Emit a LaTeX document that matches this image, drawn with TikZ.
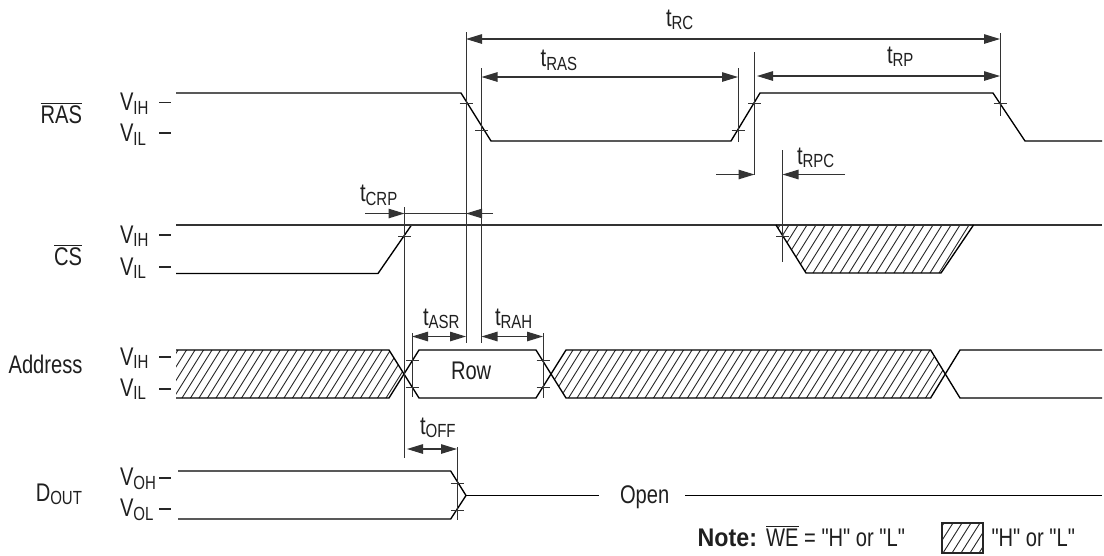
\documentclass[tikz,border=0pt]{standalone}
\usepackage{fontspec}
\newfontfamily\labelfont[FakeStretch=0.79]{Liberation Sans}
\newfontfamily\notefont[FakeStretch=0.91]{Liberation Sans}
\usetikzlibrary{arrows.meta}
\newcommand{\lsub}[1]{\raisebox{-3.6pt}{\fontsize{19}{19}\selectfont #1}}
\newcommand{\ovl}[1]{\vbox{\hrule height 1pt \kern 1.6pt \hbox{#1}}}
\tikzset{
  txt/.style={inner sep=0pt,outer sep=0pt,anchor=base west,font=\labelfont\fontsize{25.5}{26}\selectfont,text=black!88},
  txte/.style={txt,anchor=base east},
  sig/.style={line width=1.35pt,black,line join=miter},
  ext/.style={line width=1pt,black!80},
  tk/.style={line width=0.9pt,black!80},
  dim/.style={line width=1.1pt,black!80},
  dimr/.style={dim,-{Triangle[length=16pt,width=9.5pt]}},
  diml/.style={dim,{Triangle[length=16pt,width=9.5pt]}-},
  dimb/.style={dim,{Triangle[length=16pt,width=9.5pt]}-{Triangle[length=16pt,width=9.5pt]}},
  hat/.style={line width=0.9pt,black!85},
  lev/.style={line width=1.1pt,black!85},
}
\begin{document}
\begin{tikzpicture}[x=1pt,y=-1pt]
\useasboundingbox (0,0) rectangle (1104,555);
% ---- named reference points
\coordinate (rcT) at (466,32);   \coordinate (rcB) at (466,343);
\coordinate (rasT) at (481.5,68);\coordinate (rasB) at (481.5,343);
\coordinate (crpT) at (404.5,207);\coordinate (crpB) at (404.5,458);
\coordinate (raeT) at (738,68);  \coordinate (raeB) at (738,142);
\coordinate (rpcT) at (754.5,52);\coordinate (rpcB) at (754.5,175);
\coordinate (rceT) at (1000,33); \coordinate (rceB) at (1000,116);
\coordinate (pcT) at (782.5,150);\coordinate (pcB) at (782.5,262);
\coordinate (asT) at (412,333);  \coordinate (asB) at (412,397);
\coordinate (ahT) at (543,333);  \coordinate (ahB) at (543,398);
\coordinate (ofT) at (457,447);  \coordinate (ofB) at (457,520);
% ---- hatching
\begin{scope}
  \clip (176,350) -- (389,350) -- (404,374) -- (389,398) -- (176,398) -- cycle;
  \foreach \hx in {148,156.5,...,400}{\draw[hat] (\hx,398) -- ({\hx+30},350);}
\end{scope}
\begin{scope}
  \clip (551,374) -- (567,350) -- (930.6,350) -- (945.5,374) -- (930.6,398) -- (567,398) -- cycle;
  \foreach \hx in {526,534.5,...,945}{\draw[hat] (\hx,398) -- ({\hx+30},350);}
\end{scope}
\begin{scope}
  \clip (776,225) -- (973.5,225) -- (941,273) -- (806,273) -- cycle;
  \foreach \hx in {750,759,...,960}{\draw[hat] (\hx,273) -- ({\hx+30},225);}
\end{scope}
\begin{scope}
  \clip (942,523) rectangle (983,553);
  \foreach \hx in {925,934,...,985}{\draw[hat] (\hx,553) -- ({\hx+19},523);}
\end{scope}
\draw[line width=1.1pt,black!85] (942,523) rectangle (983,553);
% ---- signals
\draw[sig] (176,93) -- (461,93) -- (491,141) -- (731,141) -- (760,93) -- (993,93) -- (1025,141) -- (1102,141);
\draw[sig] (176,273.5) -- (378,273.5) -- (411.5,225);
\draw[sig,black!80] (176,225) -- (1102,225);
\draw[sig] (776,225) -- (806,273) -- (941,273) -- (973.5,225);
\draw[sig] (176,350) -- (389,350) -- (419,398) -- (536,398) -- (566,350) -- (930.6,350) -- (960,398) -- (1102,398);
\draw[sig] (176,398) -- (389,398) -- (419,350) -- (536,350) -- (566,398) -- (930.6,398) -- (960,350) -- (1102,350);
\draw[sig] (178,471) -- (450.7,471) -- (466,495.5) -- (450.7,519) -- (178,519);
\draw[sig] (466,495.5) -- (599,495.5);
\draw[sig] (685,495.5) -- (1102,495.5);
% ---- extension lines
\foreach \a/\b in {rcT/rcB,rasT/rasB,crpT/crpB,raeT/raeB,rpcT/rpcB,rceT/rceB,pcT/pcB,asT/asB,ahT/ahB,ofT/ofB}{\draw[ext] (\a) -- (\b);}
% ---- ticks
\foreach \x/\y in {466/103,481.5/130,738/130,754.5/103,1000/103,404.5/236,782.5/236,412/360,412/387,543/360,543/387,457/483,457/510}{
  \draw[tk] ({\x-6.5},\y) -- ({\x+6.5},\y);}
% ---- level dashes
\foreach \y in {102.5,133,235,267,357,389,478,509}{\draw[lev] (159,\y) -- (171,\y);}
% ---- dimension arrows
\coordinate (crpL) at (365,213.5); \coordinate (crpR) at (493,213.5);
\coordinate (rpcL) at (716,174.5); \coordinate (rpcR) at (845,174.5);
\draw[dimb] (rcT |- 0,39) -- (rceT |- 0,39);
\draw[dimb] (rasT |- 0,77) -- (raeT |- 0,77);
\draw[dimb] (757,76) -- (rceT |- 0,76);
\draw[dimr] (rpcL) -- (rpcT |- rpcL);
\draw[dimr] (rpcR) -- (pcT |- rpcR);
\draw[dimr] (crpL) -- (crpT |- crpL);
\draw[dim] (crpT |- crpL) -- (rcT |- crpL);
\draw[dimr] (crpR) -- (rcT |- crpR);
\draw[dimb] (asT |- 0,336.5) -- (rcT |- 0,336.5);
\draw[dimb] (rasT |- 0,336.5) -- (ahT |- 0,336.5);
\draw[dimb] (407,449) -- (ofT |- 0,449);
% ---- left labels
\node[txte] (lras) at (82,123.5) {\ovl{RAS}};
\node[txte] (lcs) at (82,265) {\ovl{CS}};
\node[txte] (ladr) at (82.5,373) {Address};
\node[txte] (ldo) at (82,501) {D\lsub{OUT}};
\node[txt] (v1) at (120,110.7) {V\lsub{IH}};
\node[txt] (v2) at (120,141.7) {V\lsub{IL}};
\node[txt] (v3) at (120,243) {V\lsub{IH}};
\node[txt] (v4) at (120,275) {V\lsub{IL}};
\node[txt] (v5) at (120,365) {V\lsub{IH}};
\node[txt] (v6) at (120,396) {V\lsub{IL}};
\node[txt] (v7) at (120,485.7) {V\lsub{OH}};
\node[txt] (v8) at (120,516.7) {V\lsub{OL}};
% ---- timing labels
\node[txt] (trc) at (666,26) {t\lsub{RC}};
\node[txt] (tras) at (540.7,66.7) {t\lsub{RAS}};
\node[txt] (trp) at (887,63) {t\lsub{RP}};
\node[txt] (trpc) at (797,164) {t\lsub{RPC}};
\node[txt] (tcrp) at (360,201.7) {t\lsub{CRP}};
\node[txt] (tasr) at (423,325) {t\lsub{ASR}};
\node[txt] (trah) at (495,325) {t\lsub{RAH}};
\node[txt] (toff) at (420,434) {t\lsub{OFF}};
\node[txt] (row) at (451,379) {Row};
\node[txt] (open) at (620,503) {Open};
\node[txte] (note) at (757,546.5) {\notefont\bfseries Note:};
\node[txte] (we) at (905,546.5) {\ovl{WE} = "H" or "L"};
\node[txte] (leg) at (1075,546.5) {"H" or "L"};
\end{tikzpicture}
\end{document}
